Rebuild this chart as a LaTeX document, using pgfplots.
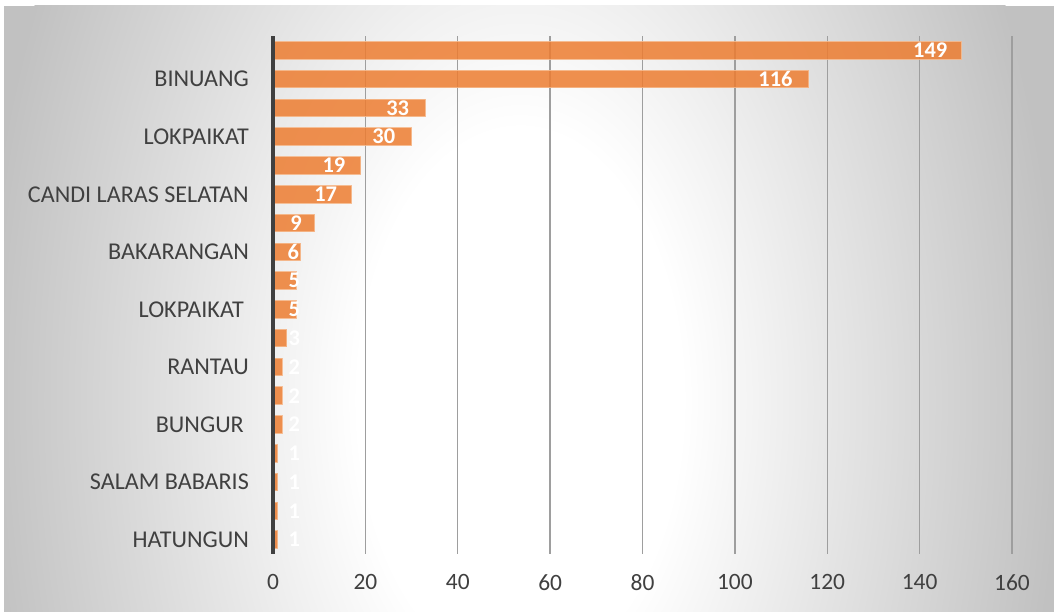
\documentclass[border=0pt]{standalone}
\usepackage{pgfplots}
\pgfplotsset{compat=1.18}
\usepackage{pgfplotstable}
\usepackage{fontspec}
\setmainfont{Carlito}

\definecolor{barfill}{RGB}{237,125,49}
\definecolor{barline}{RGB}{246,185,140}
\definecolor{txt}{RGB}{64,64,64}
\definecolor{gridc}{RGB}{158,158,158}
\definecolor{axisc}{RGB}{64,64,64}
\definecolor{bgedge}{RGB}{193,193,193}
% tikz maps the 25bp circle onto the path's box
\pgfdeclareradialshading{bgshade}{\pgfpointorigin}{color(0bp)=(white); color(7.5bp)=(white); color(25bp)=(bgedge); color(50bp)=(bgedge)}

% idx = row from the top, v = value, lx = where the value label sits
\pgfplotstableread{
idx v lx
1 149 142.3
2 116 108.8
3 33 27.0
4 30 24.0
5 19 13.2
6 17 11.4
7 9 5.0
8 6 4.4
9 5 4.6
10 5 4.6
11 3 4.6
12 2 4.6
13 2 4.6
14 2 4.6
15 1 4.6
16 1 4.6
17 1 4.6
18 1 4.6
}\datatab

\begin{document}
\begin{tikzpicture}
\fill[white] (0bp,0bp) rectangle (1054bp,612bp);
\begin{scope}
  \clip (4bp,0bp) rectangle (1054bp,606bp);
  \fill[bgedge] (4bp,0bp) rectangle (1054bp,606bp);
  \shade[shading=bgshade] (520bp,212bp) ellipse [x radius=540bp, y radius=900bp];
\end{scope}
\begin{axis}[
  at={(273bp,58bp)}, anchor=south west,
  scale only axis, width=739bp, height=518bp,
  xmin=0, xmax=160, ymin=0.5, ymax=18.5, y dir=reverse,
  xtick={0,20,...,160},
  ytick={2,4,...,18},
  yticklabels={BINUANG, LOKPAIKAT, CANDI LARAS SELATAN, BAKARANGAN, {LOKPAIKAT\rule{5bp}{0pt}}, RANTAU, {BUNGUR\rule{5bp}{0pt}}, SALAM BABARIS, HATUNGUN},
  xmajorgrids, grid style={gridc, line width=1.3bp},
  axis line style={draw=none}, major tick length=0pt,
  tick label style={font=\fontsize{23.5}{28}\selectfont, text=txt, inner sep=0pt},
  yticklabel style={xshift=-24bp, font=\fontsize{24.2}{28}\selectfont},
  xticklabel style={yshift=-20bp},
  /pgf/number format/assume math mode=true,
  clip=false,
]
\addplot[xbar, bar width=17.5bp, fill=barfill, draw=barline, line width=1bp, opacity=0.85]
  table[x=v, y=idx] {\datatab};
\addplot[draw=none, mark=none, nodes near coords, point meta=explicit symbolic,
  nodes near coords style={font=\fontsize{22.5}{26}\selectfont\bfseries, text=white, anchor=center}]
  table[x=lx, y=idx, meta=v] {\datatab};
\addplot[axisc, line width=4bp, mark=none] coordinates {(0,0.5) (0,18.5)};
\end{axis}
\end{tikzpicture}
\end{document}
